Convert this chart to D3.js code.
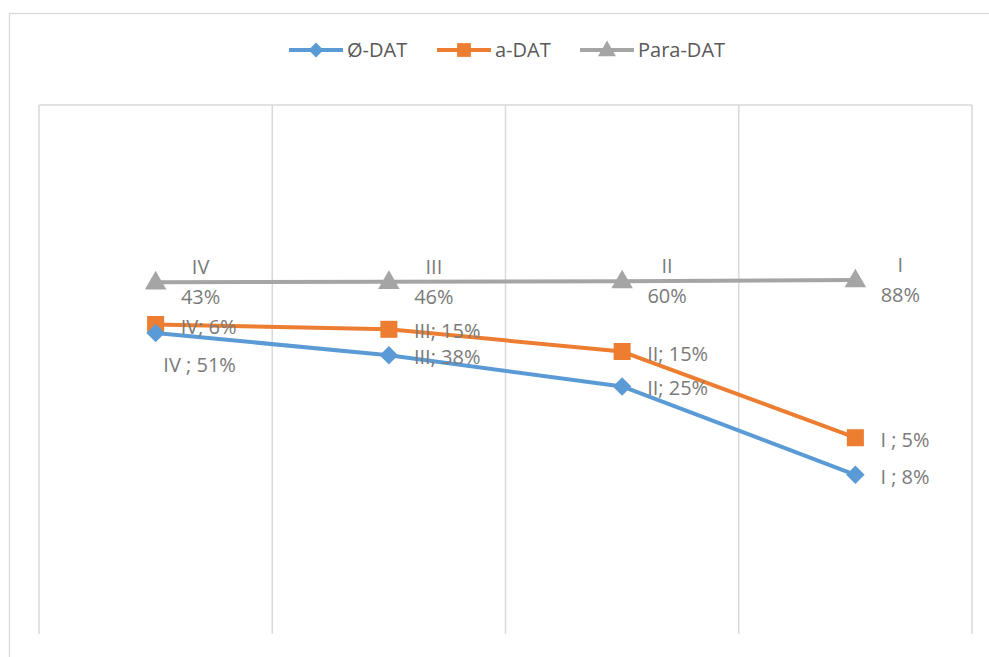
<!DOCTYPE html>
<html>
<head>
<meta charset="utf-8">
<script src="https://cdn.jsdelivr.net/npm/d3@7"></script>
<style>
  body { margin: 0; background: #fff; }
  svg { display: block; }
  text { font-family: "Open Sans", "Noto Sans", "Liberation Sans", sans-serif; }
</style>
</head>
<body>
<svg id="chart" width="989" height="657"></svg>
<script>
// Categories along x, and the data labels shown for each series.
const categories = ["IV", "III", "II", "I"];
const seriesNames = ["Ø-DAT", "a-DAT", "Para-DAT"];

// Plotted values (the chart hides its value axis; read from positions).
const diatValues = [0.569, 0.527, 0.468, 0.301];
const aDatValues = [0.585, 0.576, 0.534, 0.371];
const paraValues = [0.665, 0.666, 0.667, 0.669];

// Label texts as printed on the chart.
const diatLabels = ["IV ; 51%", "III; 38%", "II; 25%", "I ; 8%"];
const aDatLabels = ["IV; 6%", "III; 15%", "II; 15%", "I ; 5%"];
const paraLabels = ["43%", "46%", "60%", "88%"];

const colors = ["#5b9bd5", "#ed7d31", "#a5a5a5"];
const symbols = [d3.symbolSquare, d3.symbolSquare, d3.symbolTriangle];
const rotate = [45, 0, 0]; // Excel's diamond is a square turned 45 degrees

const series = [
    { name: seriesNames[0], values: diatValues, labels: diatLabels },
    { name: seriesNames[1], values: aDatValues, labels: aDatLabels },
    { name: seriesNames[2], values: paraValues, labels: paraLabels }
];

const plot = { left: 39, right: 972, top: 105, bottom: 634 };

const svg = d3.select("#chart");

// outer chart frame (runs off the window on right and bottom)
svg.append("rect")
    .attr("x", 9.5).attr("y", 13.5)
    .attr("width", 1100).attr("height", 800)
    .attr("fill", "none").attr("stroke", "#d9d9d9").attr("stroke-width", 1.3);

const x = d3.scaleBand()
    .domain(categories)
    .range([plot.left, plot.right]);

const y = d3.scaleLinear()
    .domain([0, 1])
    .range([plot.bottom, plot.top]);

// vertical gridlines at category boundaries
const grid = svg.append("g");
const bounds = categories.map(c => x(c)).concat([plot.right]);
grid.selectAll("line.v")
    .data(bounds)
    .join("line")
    .attr("x1", d => d).attr("x2", d => d)
    .attr("y1", plot.top).attr("y2", plot.bottom)
    .attr("stroke", "#d9d9d9").attr("stroke-width", 1.5);
grid.append("line")
    .attr("x1", plot.left).attr("x2", plot.right)
    .attr("y1", plot.top).attr("y2", plot.top)
    .attr("stroke", "#d9d9d9").attr("stroke-width", 1.5);

const cx = c => x(c) + x.bandwidth() / 2;

const line = d3.line()
    .x((d, i) => cx(categories[i]))
    .y(d => y(d));

// draw series back to front: Para, a, Ø
const order = [2, 1, 0];
const sizes = [170, 290, 200];
order.forEach(k => {
    const s = series[k];
    const g = svg.append("g");
    g.append("path")
        .attr("d", line(s.values))
        .attr("fill", "none")
        .attr("stroke", colors[k])
        .attr("stroke-width", 4)
        .attr("stroke-linejoin", "round");
    g.selectAll("path.m")
        .data(s.values)
        .join("path")
        .attr("class", "m")
        .attr("transform", (d, i) => `translate(${cx(categories[i])},${y(d) + (k === 2 ? 1 : 0)}) rotate(${rotate[k]})`)
        .attr("d", d3.symbol().type(symbols[k]).size(sizes[k]))
        .attr("fill", colors[k]);
});

// data labels
const labelColor = "#7a7a7a";
const fs = 20;
const labels = svg.append("g").attr("font-size", fs).attr("fill", labelColor);

// Para-DAT: category above, value below, to the right of the point
series[2].values.forEach((v, i) => {
    const px = cx(categories[i]) + 45, py = y(v);
    labels.append("text").attr("x", px).attr("y", py - 15).attr("dy", "0.35em")
        .attr("text-anchor", "middle").text(categories[i]);
    labels.append("text").attr("x", px).attr("y", py + 15).attr("dy", "0.35em")
        .attr("text-anchor", "middle").text(series[2].labels[i]);
});

// a-DAT and Ø-DAT: to the right of the point
[1, 0].forEach(k => {
    const s = series[k];
    s.values.forEach((v, i) => {
        let px = cx(categories[i]) + 25, py = y(v) + 2, anchor = "start";
        if (k === 0 && i === 0) { // this one was dragged below the point
            px = cx(categories[i]) + 44; py = y(v) + 32; anchor = "middle";
        }
        labels.append("text").attr("x", px).attr("y", py).attr("dy", "0.35em")
            .attr("text-anchor", anchor).text(s.labels[i]);
    });
});

// legend
const legend = svg.append("g").attr("transform", "translate(0,50)");
const legendX = [289, 437, 580];
series.forEach((s, k) => {
    const g = legend.append("g").attr("transform", `translate(${legendX[k]},0)`);
    g.append("line").attr("x1", 0).attr("x2", 54).attr("y1", 0).attr("y2", 0)
        .attr("stroke", colors[k]).attr("stroke-width", 4);
    g.append("path").attr("transform", `translate(27,${k === 2 ? 1 : 0}) rotate(${rotate[k]})`)
        .attr("d", d3.symbol().type(symbols[k]).size(k === 0 ? 110 : (k === 2 ? 140 : 190)))
        .attr("fill", colors[k]);
    g.append("text").attr("x", 58).attr("y", 0).attr("dy", "0.35em")
        .attr("font-size", fs).attr("fill", "#595959").text(s.name);
});
</script>
</body>
</html>
